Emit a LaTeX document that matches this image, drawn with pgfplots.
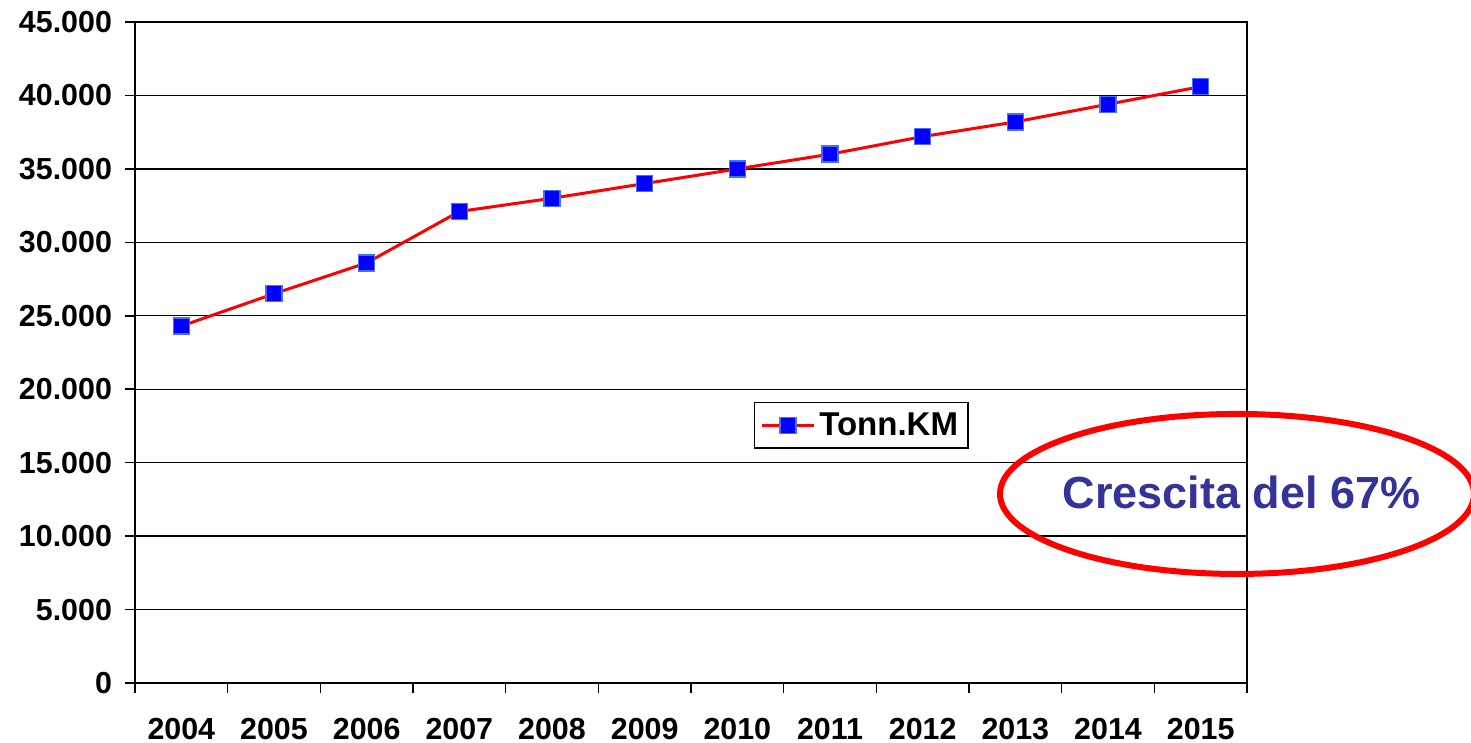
\documentclass[border=0pt]{standalone}
\usepackage{fontspec}
\setmainfont{Liberation Sans}
\usepackage{pgfplots}
\pgfplotsset{compat=1.18}
\definecolor{markblue}{RGB}{0,0,255}
\definecolor{markedge}{RGB}{70,110,255}
\definecolor{notecol}{RGB}{51,51,153}
\begin{document}
\begin{tikzpicture}
\begin{axis}[
  name=ax,
  scale only axis,
  width=556pt, height=330.5pt,
  xmin=-0.5, xmax=11.5,
  ymin=0, ymax=45000,
  axis lines=box,
  axis line style={line width=1pt},
  xtick={-0.5,0.5,...,11.5},
  x tick label as interval,
  xticklabels={2004,2005,2006,2007,2008,2009,2010,2011,2012,2013,2014,2015},
  ytick={0,5000,...,45000},
  yticklabels={0,5.000,10.000,15.000,20.000,25.000,30.000,35.000,40.000,45.000},
  scaled y ticks=false,
  xtick pos=bottom, ytick pos=left,
  tick align=outside,
  major tick length=5pt,
  tick style={black, line width=0.8pt},
  ymajorgrids,
  grid style={black, line width=0.7pt},
  tick label style={font=\fontsize{15.2}{18}\selectfont\bfseries},
  xticklabel style={yshift=-9pt},
  yticklabel style={xshift=-3pt},
  /pgf/number format/assume math mode=true,
  legend style={at={(0.653,0.39)}, anchor=center, draw=black, line width=0.6pt,
    font=\fontsize{16.5}{19}\selectfont\bfseries, inner sep=3pt},
  legend image code/.code={
    \draw[mark repeat=2, mark phase=2, #1] plot coordinates {(0pt,0pt) (13pt,0pt) (26pt,0pt)};},
  clip=false,
]
\addplot[red, line width=1.5pt, mark=square*, mark size=4pt,
  mark options={fill=markblue, draw=markedge, line width=0.7pt}]
  coordinates {(0,24300) (1,26500) (2,28600) (3,32100) (4,33000) (5,34000)
  (6,35000) (7,36000) (8,37200) (9,38200) (10,39400) (11,40600)};
\addlegendentry{Tonn.KM}
\draw[red, line width=3pt] (rel axis cs:0.991,0.286) ellipse [x radius=118.5pt, y radius=40pt];
\node[text=notecol, font=\fontsize{22.5}{26}\selectfont\bfseries] at (rel axis cs:0.995,0.289) {Crescita del 67\%};
\end{axis}
\pgfresetboundingbox
\path ([shift={(-67.5pt,-30pt)}]ax.south west) rectangle ([shift={(112pt,11pt)}]ax.north east);
\end{tikzpicture}
\end{document}
